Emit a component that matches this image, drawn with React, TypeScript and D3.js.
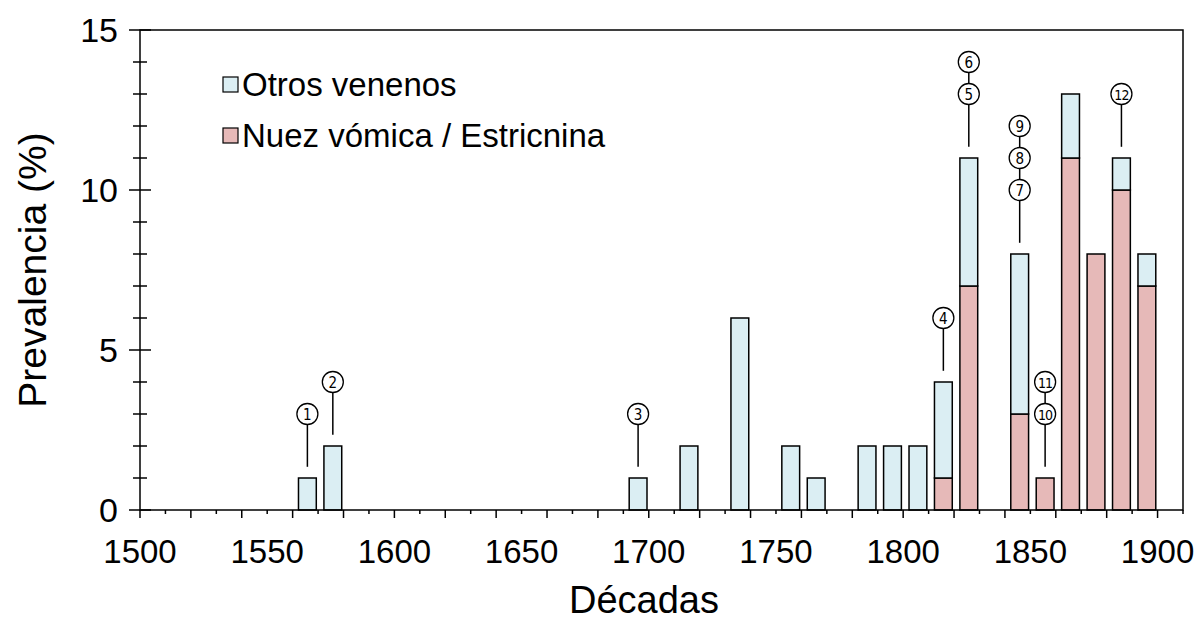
import React from "react";
import * as d3 from "d3";

const decades = [1560, 1570, 1690, 1710, 1730, 1750, 1760, 1780, 1790, 1800, 1810, 1820, 1840, 1850, 1860, 1870, 1880, 1890];
const nuez = [0, 0, 0, 0, 0, 0, 0, 0, 0, 0, 1, 7, 3, 1, 11, 8, 10, 7];
const otros = [1, 2, 1, 2, 6, 2, 1, 2, 2, 2, 3, 4, 5, 0, 2, 0, 1, 1];

const noteDecades = [1560, 1570, 1690, 1810, 1820, 1840, 1850, 1880];
const noteLabels = [["1"], ["2"], ["3"], ["4"], ["5", "6"], ["7", "8", "9"], ["10", "11"], ["12"]];

const xTickLabels = [1500, 1550, 1600, 1650, 1700, 1750, 1800, 1850, 1900];
const yTickLabels = [0, 5, 10, 15];

const seriesNames = ["Otros venenos", "Nuez vómica / Estricnina"];
const colOtros = "#DBEEF3";
const colNuez = "#E6B9B8";

const W = 1196, H = 624;
const L = 140, R = 1183, T = 30, B = 510;

export default function App() {
  const x = d3.scaleLinear().domain([1500, 1910]).range([L, R]);
  const y = d3.scaleLinear().domain([0, 15]).range([B, T]);
  const font = "'Liberation Sans', Arial, sans-serif";
  const narrow = "'Liberation Sans Narrow', 'DejaVu Sans Condensed', 'Liberation Sans', sans-serif";

  const xMinor = d3.range(1500, 1911, 10);
  const yMinor = d3.range(0, 16, 1);

  return (
    <svg width={W} height={H} style={{ position: "absolute", left: 0, top: 0, background: "#fff" }}>
      {/* bars */}
      {decades.map((d, i) => {
        const x0 = x(d + 2.3), x1 = x(d + 9.3);
        const n = nuez[i], o = otros[i];
        return (
          <g key={d}>
            {n > 0 && <rect x={x0} y={y(n)} width={x1 - x0} height={y(0) - y(n)} fill={colNuez} stroke="#000" strokeWidth={1.5} />}
            {o > 0 && <rect x={x0} y={y(n + o)} width={x1 - x0} height={y(n) - y(n + o)} fill={colOtros} stroke="#000" strokeWidth={1.5} />}
          </g>
        );
      })}
      {/* frame */}
      <rect x={L} y={T} width={R - L} height={B - T} fill="none" stroke="#000" strokeWidth={1.5} />
      {/* y ticks */}
      {yMinor.map((v) => {
        const major = v % 5 === 0;
        const len = major ? 11 : 7;
        return <line key={"y" + v} x1={L - len} x2={L + len} y1={y(v)} y2={y(v)} stroke="#000" strokeWidth={1.5} />;
      })}
      {yTickLabels.map((v) => (
        <text key={"yl" + v} x={118} y={y(v) + 12} textAnchor="end" fontFamily={font} fontSize={34}>{v}</text>
      ))}
      {/* x ticks */}
      {xMinor.map((v) => {
        const long = (v - 1500) % 20 === 0;
        return <line key={"x" + v} x1={x(v)} x2={x(v)} y1={B} y2={B + (long ? 8 : 4)} stroke="#000" strokeWidth={1.5} />;
      })}
      {xTickLabels.map((v) => (
        <text key={"xl" + v} x={x(v)} y={563} textAnchor="middle" fontFamily={font} fontSize={33}>{v}</text>
      ))}
      {/* axis titles */}
      <text x={644} y={613} textAnchor="middle" fontFamily={font} fontSize={38}>Décadas</text>
      <text transform={`translate(46,${(T + B) / 2}) rotate(-90)`} textAnchor="middle" fontFamily={font} fontSize={39}>Prevalencia (%)</text>
      {/* legend */}
      {seriesNames.map((s, i) => (
        <g key={s}>
          <rect x={223} y={77 + i * 51} width={15} height={15} fill={i === 0 ? colOtros : colNuez} stroke="#000" strokeWidth={1.2} />
          <text x={242} y={96 + i * 51} fontFamily={font} fontSize={33}>{s}</text>
        </g>
      ))}
      {/* annotations */}
      {noteDecades.map((d, k) => {
        const i = decades.indexOf(d);
        const total = nuez[i] + otros[i];
        const cx = x(d + 5.8);
        const labels = noteLabels[k];
        return (
          <g key={"n" + d}>
            <line x1={cx} x2={cx} y1={y(total + 1 + labels.length)} y2={y(total + 0.35)} stroke="#000" strokeWidth={1.5} />
            {labels.map((lab, j) => (
              <g key={lab}>
                <circle cx={cx} cy={y(total + 2 + j)} r={10.5} fill="#fff" stroke="#000" strokeWidth={1.3} />
                <text x={cx} y={y(total + 2 + j) + 5.5} textAnchor="middle" fontFamily={narrow} fontSize={lab.length > 1 ? 14 : 15} letterSpacing={lab.length > 1 ? -0.8 : 0}>{lab}</text>
              </g>
            ))}
          </g>
        );
      })}
    </svg>
  );
}
